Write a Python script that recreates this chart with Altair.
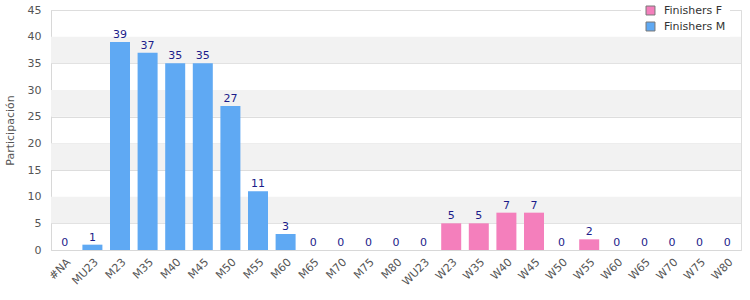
import altair as alt
import pandas as pd

categories = ["#NA", "MU23", "M23", "M35", "M40", "M45", "M50", "M55", "M60", "M65", "M70", "M75", "M80",
              "WU23", "W23", "W35", "W40", "W45", "W50", "W55", "W60", "W65", "W70", "W75", "W80"]
values = [0, 1, 39, 37, 35, 35, 27, 11, 3, 0, 0, 0, 0,
          0, 5, 5, 7, 7, 0, 2, 0, 0, 0, 0, 0]
series = ["Finishers M" if (c.startswith("M") or c == "#NA") else "Finishers F" for c in categories]

df = pd.DataFrame({"cat": categories, "value": values, "series": series})

y_ticks = [0, 5, 10, 15, 20, 25, 30, 35, 40, 45]
band_lo = [5, 15, 25, 35]
band_hi = [10, 20, 30, 40]
bands = pd.DataFrame({"lo": band_lo, "hi": band_hi})

FONT = "DejaVu Sans"

ybase = alt.Scale(domain=[0, 45], nice=False)
yaxis = alt.Axis(title="Participación", values=y_ticks, grid=True,
                 gridColor="#dddddd", ticks=False, domainColor="#d8d8d8",
                 labelOverlap=False, labelFlush=False,
                 labelFont=FONT, labelFontSize=11, labelColor="#555555", labelPadding=10,
                 titleFont=FONT, titleFontSize=11, titleFontWeight="normal",
                 titleColor="#555555", titlePadding=12)
xaxis = alt.Axis(title=None, labelAngle=-45, labelAlign="right", labelBaseline="top",
                 labelFont=FONT, labelFontSize=11, labelColor="#555555",
                 ticks=False, domain=True, domainColor="#d8d8d8", labelPadding=6)
xscale = alt.Scale(paddingInner=0.27, paddingOuter=0.135)

band_layer = alt.Chart(bands).mark_rect(color="#f2f2f2").encode(
    y=alt.Y("lo:Q", scale=ybase, axis=yaxis),
    y2="hi:Q",
    x=alt.value(0),
    x2=alt.value(690),
)

bars = alt.Chart(df).mark_bar(size=20).encode(
    x=alt.X("cat:N", sort=categories, scale=xscale, axis=xaxis),
    y=alt.Y("value:Q", scale=ybase, axis=yaxis),
    color=alt.Color("series:N", scale=alt.Scale(domain=["Finishers F", "Finishers M"],
                                                 range=["#f47fbc", "#5fa9f3"]),
                    legend=alt.Legend(title=None, orient="none", legendX=590, legendY=-9,
                                      labelFont=FONT, labelFontSize=11, labelColor="#333333",
                                      symbolType="square", symbolSize=80, symbolStrokeColor="#777777",
                                      symbolStrokeWidth=1, fillColor="white", padding=4,
                                      rowPadding=3, labelOffset=8)),
)

labels = alt.Chart(df).mark_text(dy=-7, font=FONT, fontSize=11, color="#1c1c8a").encode(
    x=alt.X("cat:N", sort=categories, scale=xscale, axis=xaxis),
    y=alt.Y("value:Q", scale=ybase, axis=yaxis),
    text="value:Q",
)

chart = alt.layer(band_layer, bars, labels).properties(
    width=690, height=240,
    autosize=alt.AutoSizeParams(type="none"),
    padding={"left": 51, "top": 10, "right": 9, "bottom": 50},
).configure_view(stroke="#dddddd").configure(background="white")

chart.save("out.html", embed_options={"renderer": "svg", "actions": False})
